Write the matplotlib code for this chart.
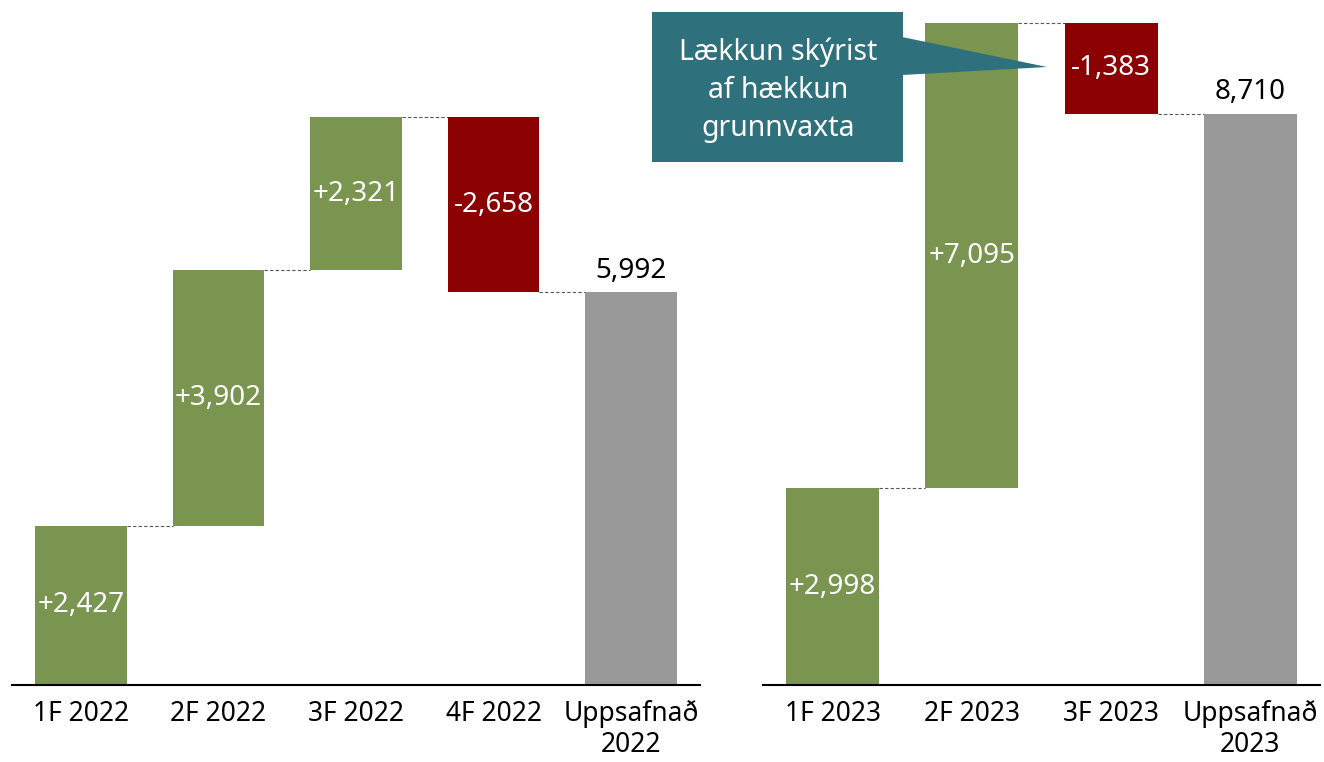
import matplotlib
matplotlib.use("Agg")
import matplotlib.pyplot as plt
from matplotlib.patches import Polygon, Rectangle

plt.rcParams['font.family'] = ['Noto Sans', 'DejaVu Sans']

# gögn
labels_2022 = ['1F 2022', '2F 2022', '3F 2022', '4F 2022', 'Uppsafnað\n2022']
changes_2022 = [2427, 3902, 2321, -2658]
total_2022 = 5992

labels_2023 = ['1F 2023', '2F 2023', '3F 2023', 'Uppsafnað\n2023']
changes_2023 = [2998, 7095, -1383]
total_2023 = 8710

GREEN = '#7a9550'
RED = '#8b0000'
GREY = '#999999'
TEAL = '#2e717c'

W, H = 1324, 762
fig = plt.figure(figsize=(W / 100, H / 100), dpi=100)


def waterfall(ax, labels, changes, total):
    base = 0
    n = len(changes)
    width = 0.667
    for i, c in enumerate(changes):
        bottom = base if c > 0 else base + c
        ax.bar(i, abs(c), bottom=bottom, width=width,
               color=GREEN if c > 0 else RED, zorder=2)
        txt = ('+' if c > 0 else '-') + f'{abs(c):,}'
        ax.text(i, bottom + abs(c) / 2, txt, ha='center', va='center',
                color='white', fontsize=20)
        base += c
        ax.plot([i + width / 2, i + 1 - width / 2], [base, base],
                ls=(0, (3, 2)), color='#555555', lw=0.8, zorder=1)
    ax.bar(n, total, width=width, color=GREY, zorder=2)
    ax.text(n, total + 110, f'{total:,}', ha='center', va='bottom',
            color='black', fontsize=20)
    ax.set_xticks(range(n + 1))
    ax.set_xticklabels(labels, fontsize=19, linespacing=1.12)
    ax.tick_params(axis='x', length=0, pad=11)
    ax.set_yticks([])
    for s in ['top', 'right', 'left']:
        ax.spines[s].set_visible(False)
    ax.spines['bottom'].set_linewidth(1.5)
    ax.set_xlim(-0.5, n + 0.5)
    ax.set_ylim(0, 10440)


ax1 = fig.add_axes([12 / W, 1 - 685 / H, 688 / W, 685 / H])
waterfall(ax1, labels_2022, changes_2022, total_2022)
ax2 = fig.add_axes([763 / W, 1 - 685 / H, 557 / W, 685 / H])
waterfall(ax2, labels_2023, changes_2023, total_2023)

# athugasemd
def px(x, y):
    return (x / W, 1 - y / H)

box = Rectangle(px(652, 162), 251 / W, 150 / H, transform=fig.transFigure,
                facecolor=TEAL, edgecolor='none', zorder=5)
tri = Polygon([px(902, 37), px(1047, 67), px(902, 75)], closed=True,
              transform=fig.transFigure, facecolor=TEAL, edgecolor='none', zorder=5)
fig.patches.extend([box, tri])
fig.text(*px(778, 90), 'Lækkun skýrist\naf hækkun\ngrunnvaxta', ha='center', va='center',
         color='white', fontsize=20.5, linespacing=1.42, zorder=6)

fig.savefig('out.png', dpi=100)
